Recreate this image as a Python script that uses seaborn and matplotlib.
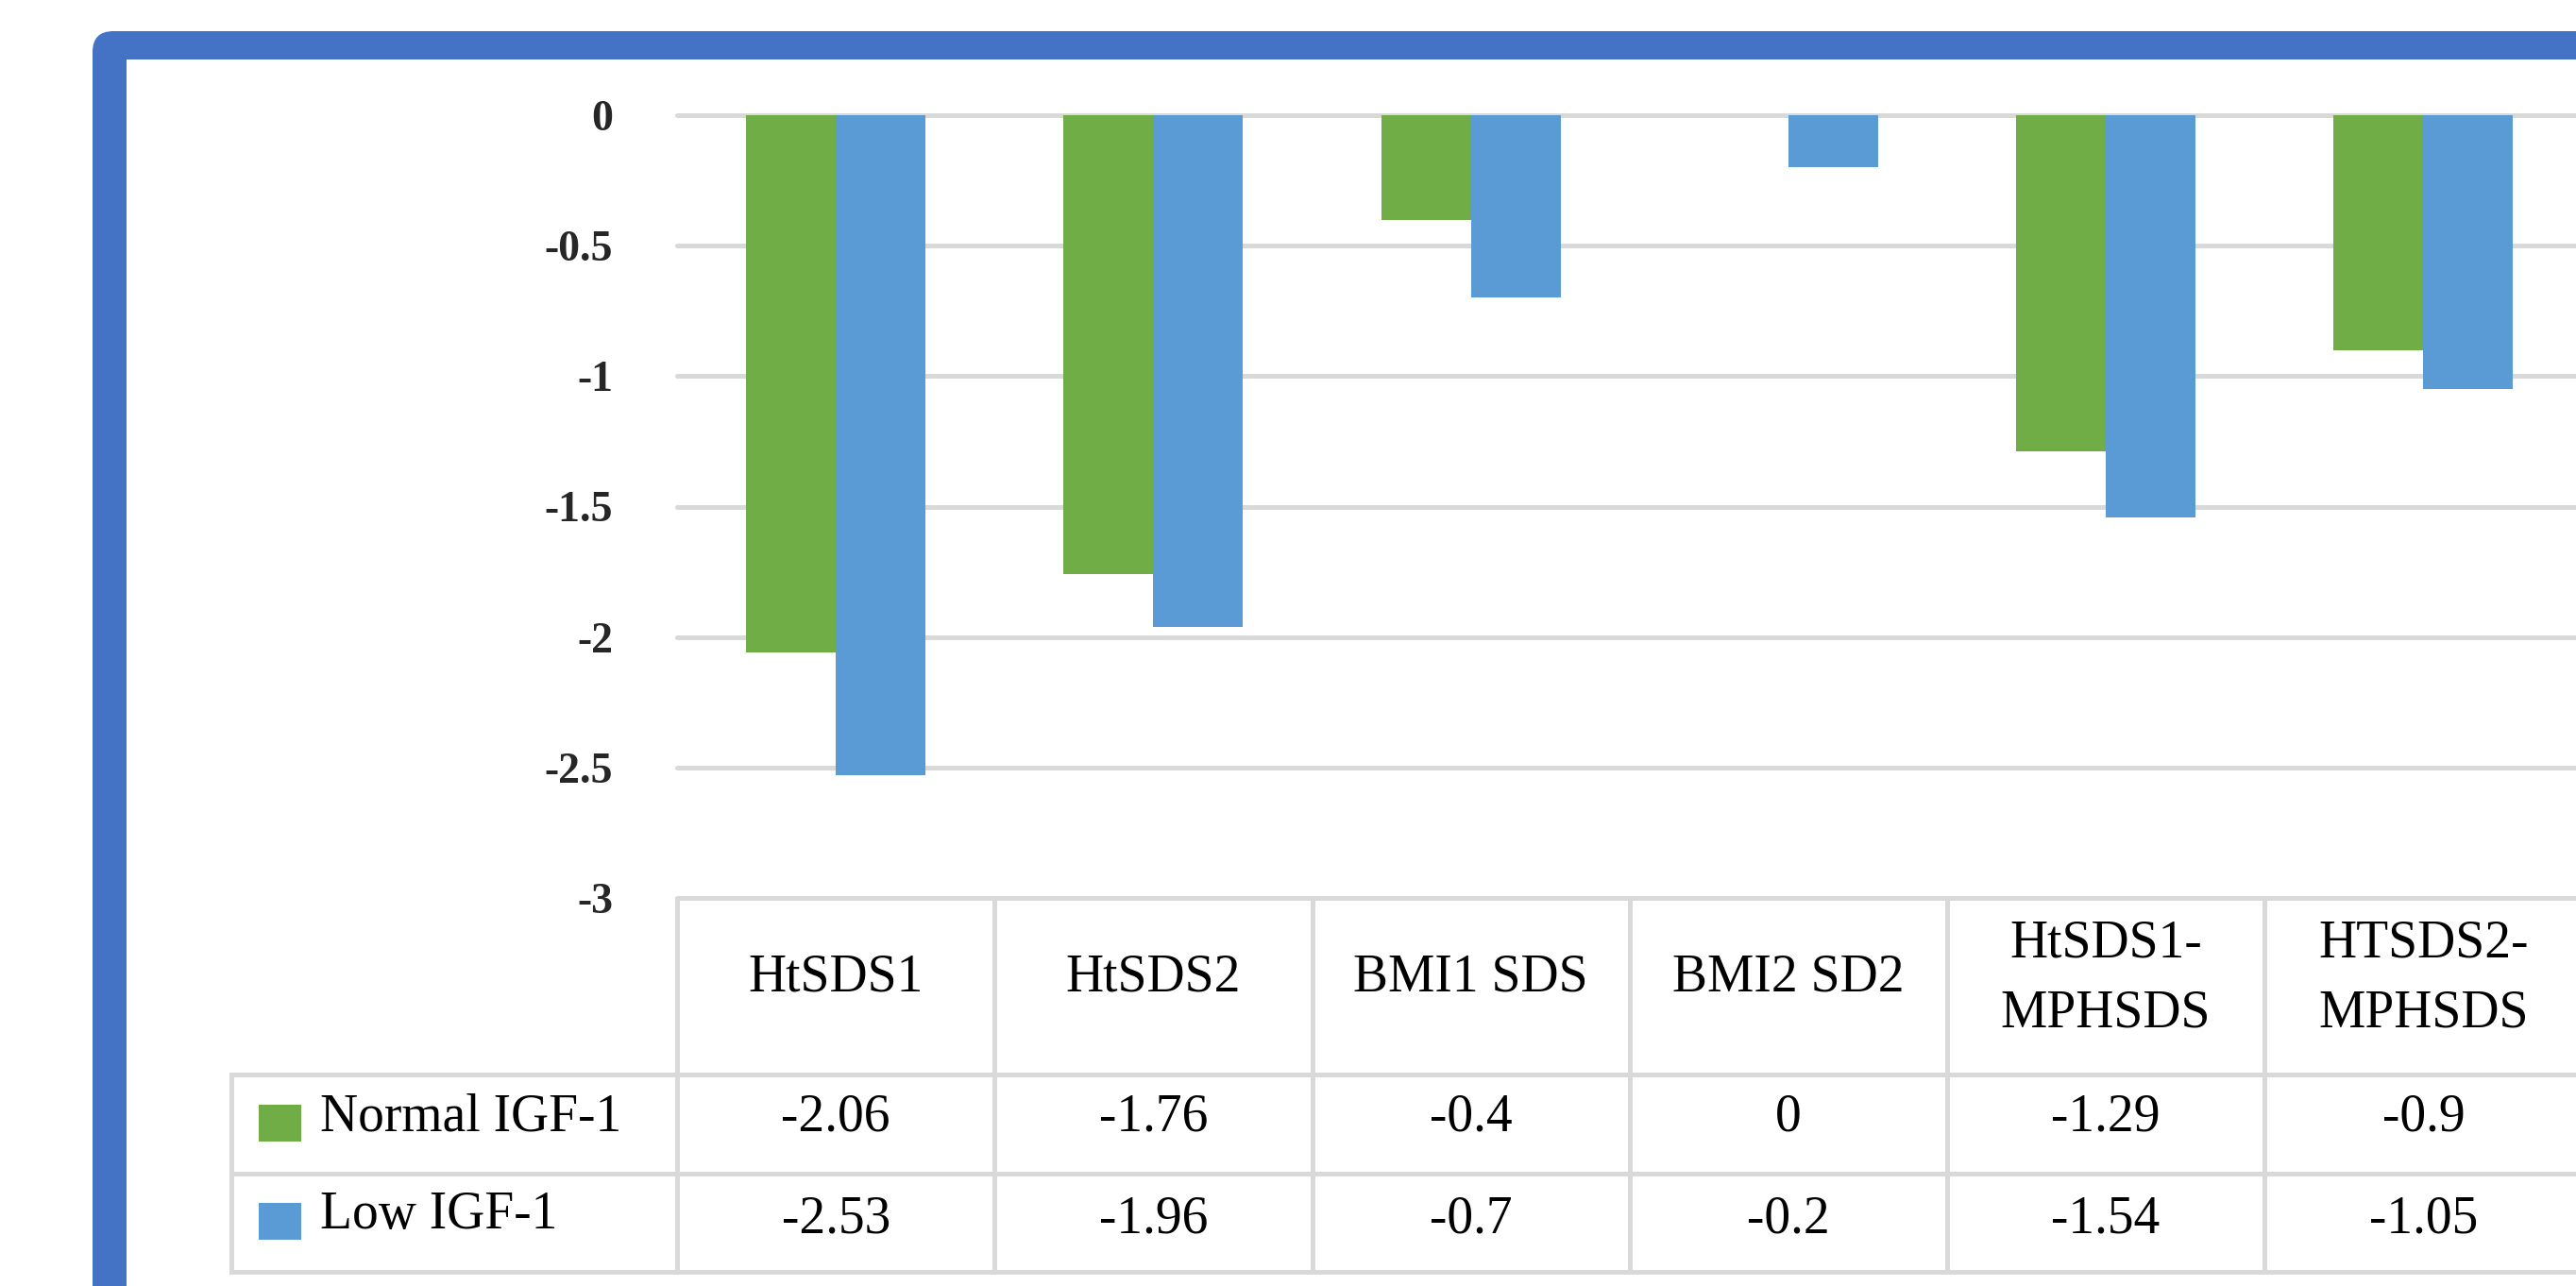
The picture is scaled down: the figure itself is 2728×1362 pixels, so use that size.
import matplotlib
matplotlib.use('Agg')
import matplotlib.pyplot as plt
import matplotlib.transforms as mtransforms
from matplotlib.patches import FancyBboxPatch, Rectangle
import pandas as pd
import seaborn as sns

categories = ['HtSDS1', 'HtSDS2', 'BMI1 SDS', 'BMI2 SD2', 'HtSDS1-\nMPHSDS', 'HTSDS2-\nMPHSDS']
groups = ['Normal IGF-1', 'Low IGF-1']
normal_igf = [-2.06, -1.76, -0.4, 0, -1.29, -0.9]
low_igf = [-2.53, -1.96, -0.7, -0.2, -1.54, -1.05]
yticks = [0, -0.5, -1, -1.5, -2, -2.5, -3]
ytick_labels = ['0', '-0.5', '-1', '-1.5', '-2', '-2.5', '-3']
colors = ['#70AD47', '#5B9BD5']

df = pd.DataFrame({
    'category': categories * 2,
    'group': [groups[0]] * len(categories) + [groups[1]] * len(categories),
    'value': normal_igf + low_igf,
})

sns.set_theme(style='white')
plt.rcParams['font.family'] = ['Liberation Serif', 'DejaVu Serif']
plt.rcParams['axes.unicode_minus'] = False

W, H = 2728, 1362
fig = plt.figure(figsize=(W / 100, H / 100), dpi=100)

# background layer in pixel units: blue frame + data table
bg = fig.add_axes([0, 0, 1, 1], zorder=0)
bg.set_xlim(0, W)
bg.set_ylim(H, 0)
bg.axis('off')
bg.add_patch(FancyBboxPatch((98, 33), 3000, 2000, boxstyle='round,pad=0,rounding_size=22',
                            facecolor='#4472C4', edgecolor='none'))
bg.add_patch(Rectangle((134, 63), 3000, 2000, facecolor='white', edgecolor='none'))

# plot area (cropped on the right like the source)
left, right, top, bottom = 717, 2734.5, 122, 951
ax = fig.add_axes([left / W, 1 - bottom / H, (right - left) / W, (bottom - top) / H], zorder=1)
ax.set_facecolor('none')
sns.barplot(data=df, x='category', y='value', hue='group', palette=colors, saturation=1,
            width=0.565, errorbar=None, linewidth=0, legend=False, ax=ax, zorder=3)
ax.set_xlim(-0.5, len(categories) - 0.5)
ax.set_ylim(-3, 0)
for v in yticks:
    ax.axhline(v, color='#D9D9D9', lw=3.6, zorder=1, clip_on=False)
ax.set_xticks([])
ax.set_xlabel('')
ax.set_ylabel('')
ax.set_yticks(yticks)
ax.set_yticklabels(ytick_labels, fontsize=33, fontweight='bold')
ax.tick_params(axis='y', length=0, pad=49)
for s in ax.spines.values():
    s.set_visible(False)

# data table under the chart
tbl = mtransforms.blended_transform_factory(ax.transData, bg.transData)
line_kw = dict(color='#D9D9D9', lw=3.6, solid_capstyle='projecting')
for y in [1138, 1243, 1347]:
    bg.plot([245, W + 10], [y, y], **line_kw)
bg.plot([245, 245], [1138, 1347], **line_kw)
for k in range(len(categories) + 1):
    bg.plot([k - 0.5, k - 0.5], [953, 1347], transform=tbl, **line_kw)

for i, cat in enumerate(categories):
    bg.text(i, 1036, cat, transform=tbl, ha='center', va='center', fontsize=40,
            linespacing=1.55, color='black')
for i, (a, b) in enumerate(zip(normal_igf, low_igf)):
    bg.text(i, 1184, f'{a:g}', transform=tbl, ha='center', va='center', fontsize=40, color='black')
    bg.text(i, 1292, f'{b:g}', transform=tbl, ha='center', va='center', fontsize=40, color='black')

for g, c, yc in zip(groups, colors, [1189, 1293]):
    bg.add_patch(Rectangle((274, yc - 19), 45, 39, facecolor=c, edgecolor='none'))
    bg.text(339, yc - 6, g, ha='left', va='center', fontsize=40, color='black')

fig.savefig('out.png', dpi=100)
plt.close(fig)
print("Created: out.png")
